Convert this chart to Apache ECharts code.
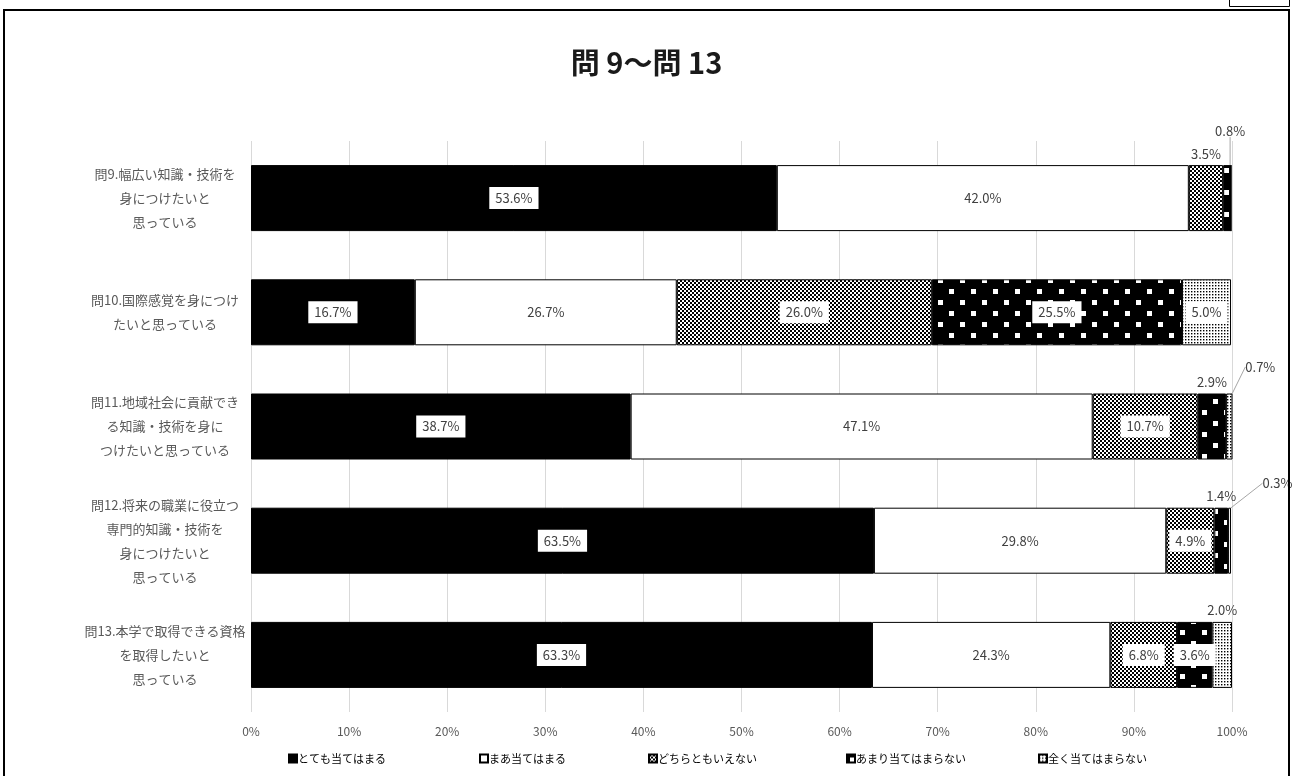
<!DOCTYPE html>
<html>
<head>
<meta charset="utf-8">
<style>
html,body{margin:0;padding:0;background:#fff;}
#chart{width:1293px;height:776px;}
</style>
<script src="https://cdn.jsdelivr.net/npm/echarts@6/dist/echarts.min.js"></script>
</head>
<body>
<div id="chart"></div>
<script>
// ---- data ----
var categories = [
  '問9.幅広い知識・技術を\n身につけたいと\n思っている',
  '問10.国際感覚を身につけ\nたいと思っている',
  '問11.地域社会に貢献でき\nる知識・技術を身に\nつけたいと思っている',
  '問12.将来の職業に役立つ\n専門的知識・技術を\n身につけたいと\n思っている',
  '問13.本学で取得できる資格\nを取得したいと\n思っている'
];
var seriesNames = ['とても当てはまる', 'まあ当てはまる', 'どちらともいえない', 'あまり当てはまらない', '全く当てはまらない'];
var verySo   = [53.6, 16.7, 38.7, 63.5, 63.3];
var somewhat = [42.0, 26.7, 47.1, 29.8, 24.3];
var neutral  = [3.5, 26.0, 10.7, 4.9, 6.8];
var notMuch  = [0.8, 25.5, 2.9, 1.4, 3.6];
var notAtAll = [0, 5.0, 0.7, 0.3, 2.0];
var xTicks = [0, 10, 20, 30, 40, 50, 60, 70, 80, 90, 100];

// ---- patterns ----
function makePattern(w, h, bg, fg, rects) {
  var c = document.createElement('canvas');
  c.width = w; c.height = h;
  var ctx = c.getContext('2d');
  ctx.fillStyle = bg; ctx.fillRect(0, 0, w, h);
  ctx.fillStyle = fg;
  rects.forEach(function (r) { ctx.fillRect(r[0], r[1], r[2], r[3]); });
  return { image: c, repeat: 'repeat' };
}
var fills = [
  '#000000',
  '#ffffff',
  makePattern(4, 4, '#ffffff', '#000000', [[0, 0, 2, 2], [2, 2, 2, 2]]),
  makePattern(22, 22, '#000000', '#ffffff', [[3, 3, 5, 5], [14, 14, 5, 5]]),
  makePattern(3, 3, '#ffffff', '#000000', [[0, 0, 1.4, 1.4]])
];
var allValues = [verySo, somewhat, neutral, notMuch, notAtAll];

// label placement: 'in' inside with white box, 'top' above bar, 'lead' above with leader line, 'none'
var placement = [
  ['in', 'in', 'in', 'in', 'in'],
  ['in', 'in', 'in', 'in', 'in'],
  ['top', 'in', 'in', 'in', 'in'],
  ['lead', 'in', 'top', 'top', 'in'],
  ['none', 'in', 'lead', 'lead', 'top']
];
var leadOffsets = {
  '3-0': [3, -23],
  '4-2': [31, -15],
  '4-3': [48, -13]
};

var labelColor = '#404040';
var fontFam = '"Noto Sans CJK JP", "Noto Sans", sans-serif';

var series = allValues.map(function (vals, si) {
  return {
    name: seriesNames[si],
    type: 'bar',
    stack: 'total',
    barWidth: 66,
    itemStyle: { color: fills[si], borderColor: '#000', borderWidth: 1 },
    label: {
      show: true,
      position: 'inside',
      formatter: function (p) { return p.value.toFixed(1) + '%'; },
      color: labelColor,
      fontSize: 13,
      fontFamily: fontFam,
      backgroundColor: '#ffffff',
      padding: [5, 6, 4, 6]
    },
    labelLayout: function (p) {
      var k = si + '-' + p.dataIndex;
      if (leadOffsets[k]) return { dx: leadOffsets[k][0], dy: leadOffsets[k][1] };
      return {};
    },
    data: vals.map(function (v, ci) {
      var pl = placement[si][ci];
      var item = { value: v };
      if (pl === 'none') {
        item.label = { show: false };
      } else if (pl === 'top' || pl === 'lead') {
        item.label = { position: 'top', distance: 5, backgroundColor: 'transparent', padding: 0 };
        if (pl === 'lead') {
          item.labelLine = { show: true, lineStyle: { color: '#a6a6a6', width: 1 } };
        }
      }
      return item;
    })
  };
});

var legendLefts = [283, 474, 643, 841, 1033];
var legends = seriesNames.map(function (n, i) {
  return {
    data: [n],
    left: legendLefts[i],
    top: 748,
    itemWidth: 8,
    itemHeight: 8,
    itemGap: 0,
    icon: 'rect',
    selectedMode: false,
    textStyle: { color: '#000', fontSize: 11, fontFamily: fontFam, padding: [0, 0, 0, -4] }
  };
});

var chart = echarts.init(document.getElementById('chart'));
chart.setOption({
  animation: false,
  backgroundColor: '#ffffff',
  title: {
    text: '問 9〜問 13',
    left: 'center',
    top: 43,
    textStyle: { fontSize: 29, fontWeight: 'bold', color: '#1a1a1a', fontFamily: fontFam }
  },
  legend: legends,
  grid: { left: 251, right: 61, top: 141, bottom: 64, containLabel: false },
  xAxis: {
    type: 'value',
    min: xTicks[0],
    max: xTicks[xTicks.length - 1],
    interval: 10,
    axisLine: { show: false },
    axisTick: { show: false },
    splitLine: { show: true, lineStyle: { color: '#d9d9d9', width: 1 } },
    axisLabel: { color: '#595959', fontSize: 12, fontFamily: fontFam, margin: 13, formatter: '{value}%' }
  },
  yAxis: {
    type: 'category',
    inverse: true,
    data: categories,
    axisLine: { show: false },
    axisTick: { show: false },
    axisLabel: { color: '#595959', fontSize: 13, fontFamily: fontFam, lineHeight: 24, align: 'center', margin: 86 }
  },
  series: series,
  graphic: [
    { type: 'rect', silent: true, z: 100, shape: { x: 4, y: 10, width: 1285, height: 790 }, style: { fill: 'none', stroke: '#000', lineWidth: 2 } },
    { type: 'rect', silent: true, z: 100, shape: { x: 1229.5, y: -3, width: 60, height: 9.5 }, style: { fill: 'none', stroke: '#000', lineWidth: 1 } }
  ]
});
</script>
</body>
</html>
